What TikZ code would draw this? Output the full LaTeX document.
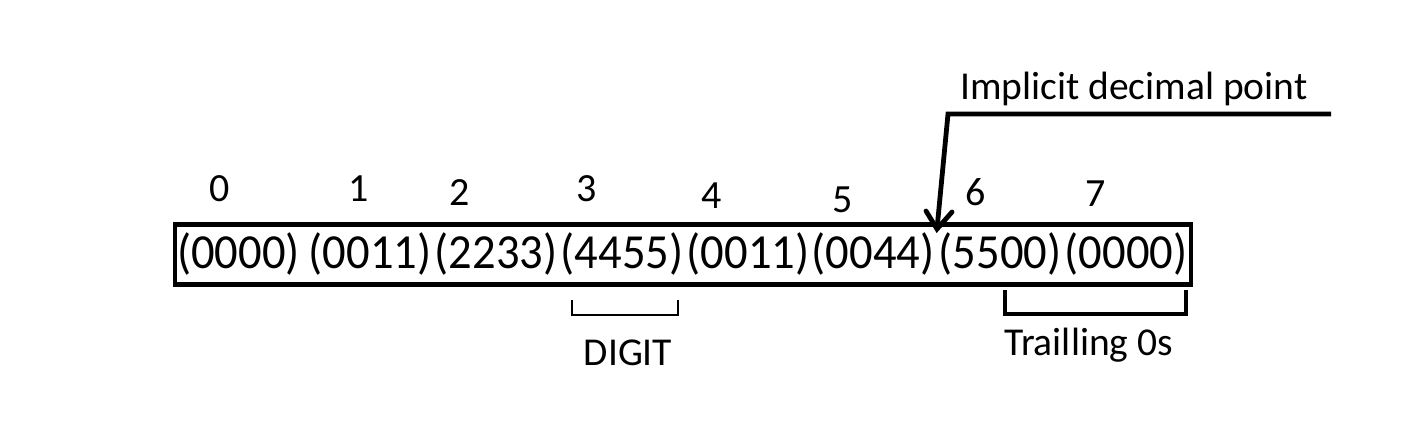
\documentclass[tikz,border=0pt]{standalone}
\usepackage{fontspec}
\setmainfont{Carlito}
\newcommand{\grptext}[1]{\scalebox{0.95}[1]{#1}}
\begin{document}
\begin{tikzpicture}[x=1pt,y=-1pt,
  grp/.style={anchor=base,inner sep=0pt,font=\fontsize{49}{54}\selectfont},
  idx/.style={anchor=base,inner sep=0pt,font=\fontsize{40}{44}\selectfont},
  lbl/.style={inner sep=0pt,font=\fontsize{39.5}{44}\selectfont},
  thickline/.style={line width=4.8pt},
  thinline/.style={line width=2.5pt}]
\useasboundingbox (0,0) rectangle (1421,422);
% box
\draw[thickline] (175,224.5) rectangle (1191,284.5);
% groups
\node[grp] (g0) at (238.5,268) {\grptext{(0000)}};
\node[grp] (g1) at (370,268) {\grptext{(0011)}};
\node[grp] (g2) at (496,268) {\grptext{(2233)}};
\node[grp] (g3) at (622,268) {\grptext{(4455)}};
\node[grp] (g4) at (748,268) {\grptext{(0011)}};
\node[grp] (g5) at (873,268) {\grptext{(0044)}};
\node[grp] (g6) at (1000,268) {\grptext{(5500)}};
\node[grp] (g7) at (1126,268) {\grptext{(0000)}};
% indices
\node[idx] (i0) at (220,202) {0};
\node[idx] (i1) at (359,202) {1};
\node[idx] (i2) at (460,205) {2};
\node[idx] (i3) at (587,201) {3};
\node[idx] (i4) at (712,208) {4};
\node[idx] (i5) at (843,212) {5};
\node[idx] (i6) at (976,205) {6};
\node[idx] (i7) at (1096,207) {7};
% implicit decimal point
\node[lbl,anchor=base west] (imp) at (960,100) {Implicit decimal point};
\coordinate (lend) at (1331,114);
\coordinate (lcorner) at (948,114);
\coordinate (tip) at (937,229);
\draw[thickline,line join=miter] (lend) -- (lcorner) -- (tip);
\draw[thickline,line cap=round] (926,211) -- (tip) -- (952,212);
% DIGIT bracket
\draw[thinline] (572,300) -- (572,315) -- (678,315) -- (678,300);
\node[lbl,anchor=base] (digit) at (628,365) {DIGIT};
% trailing bracket
\draw[thickline] (1005,290) -- (1005,314) -- (1186,314) -- (1186,290);
\node[lbl,anchor=base west] (trail) at (1004,355) {Trailling 0s};
\end{tikzpicture}
\end{document}
